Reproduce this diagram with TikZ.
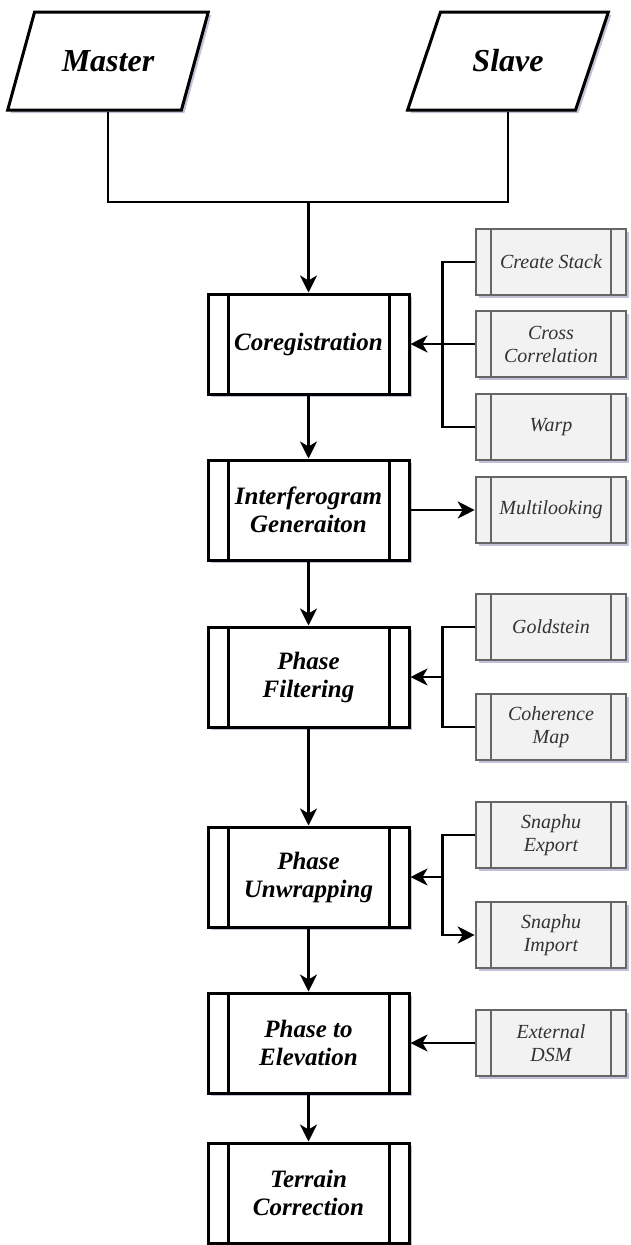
\documentclass[tikz,border=0pt]{standalone}
\usepackage{fontspec}
\setmainfont{Liberation Serif}
\usetikzlibrary{shapes.geometric,arrows.meta,calc,shadows}
\definecolor{subfill}{HTML}{F2F2F2}
\definecolor{subline}{HTML}{666666}
\definecolor{subtext}{HTML}{333333}
\tikzset{
  shade/.style={drop shadow={shadow xshift=3pt,shadow yshift=-3pt,opacity=.35,fill=black!60!blue!70}},
  inp/.style={trapezium, trapezium left angle=57, trapezium right angle=123, trapezium stretches=true,
    draw, line width=3pt, fill=white, shade, minimum width=201pt, minimum height=98pt,
    font=\fontsize{32}{36}\selectfont\bfseries\itshape},
  proc/.style={draw, line width=3pt, fill=white, shade, minimum width=201pt, minimum height=100pt,
    align=center, font=\fontsize{25}{28}\selectfont\bfseries\itshape,
    path picture={\draw[line width=3pt]
      ([xshift=20pt]path picture bounding box.north west) -- ([xshift=20pt]path picture bounding box.south west)
      ([xshift=-20pt]path picture bounding box.north east) -- ([xshift=-20pt]path picture bounding box.south east);}},
  sub/.style={draw=subline, line width=2.6pt, fill=subfill, shade, minimum width=150pt, minimum height=66pt,
    align=center, text=subtext, font=\fontsize{20}{23}\selectfont\itshape,
    path picture={\draw[subline, line width=2.4pt]
      ([xshift=15pt]path picture bounding box.north west) -- ([xshift=15pt]path picture bounding box.south west)
      ([xshift=-15pt]path picture bounding box.north east) -- ([xshift=-15pt]path picture bounding box.south east);}}
}
\begin{document}
\begin{tikzpicture}[x=1pt, y=-1pt, >={Stealth[length=17pt,width=17pt,inset=5pt]}, line width=2.7pt]
\useasboundingbox (0,0) rectangle (630,1245);
% main chain
\node[inp] (master) at (108,61) {Master};
\node[inp] (slave) at (508,61) {Slave};
\node[proc] (coreg) at (308.5,344) {Coregistration};
\node[proc] (interf) at (308.5,510) {Interferogram\\Generaiton};
\node[proc] (filt) at (308.5,677) {Phase\\Filtering};
\node[proc] (unwrap) at (308.5,877) {Phase\\Unwrapping};
\node[proc] (elev) at (308.5,1043) {Phase to\\Elevation};
\node[proc] (terrain) at (308.5,1193) {Terrain\\Correction};
% side steps
\foreach \n/\y/\t in {stack/262/Create Stack, xcorr/344/Cross\\Correlation, warp/427/Warp,
  multi/510/Multilooking, gold/627/Goldstein, coher/727/Coherence\\Map,
  sexp/835/Snaphu\\Export, simp/935/Snaphu\\Import, dsm/1043/External\\DSM}
  \node[sub] (\n) at (551,\y) {\t};
\coordinate (join) at (308.5,202);
\draw (master.south) |- (join) -| (slave.south);
\draw[->] (join) -- (coreg);
\foreach \a/\b in {coreg/interf, interf/filt, filt/unwrap, unwrap/elev, elev/terrain}
  \draw[->] (\a) -- (\b);
% brackets
\coordinate (b1) at ($(coreg.east)!.5!(xcorr.west)$);
\draw (stack.west) -| (b1) |- (warp.west);
\draw[->] (xcorr.west) -- (coreg.east);
\draw[->] (interf) -- (multi);
\coordinate (b2) at ($(filt.east)!.5!(filt.east -| gold.west)$);
\draw (gold.west) -| (b2) |- (coher.west);
\draw[->] (b2) -- (filt.east);
\coordinate (b3) at ($(unwrap.east)!.5!(unwrap.east -| sexp.west)$);
\draw (sexp.west) -| (b3);
\draw[->] (b3) -- (unwrap.east);
\draw[->] (b3) |- (simp.west);
\draw[->] (dsm) -- (elev);
\end{tikzpicture}
\end{document}
